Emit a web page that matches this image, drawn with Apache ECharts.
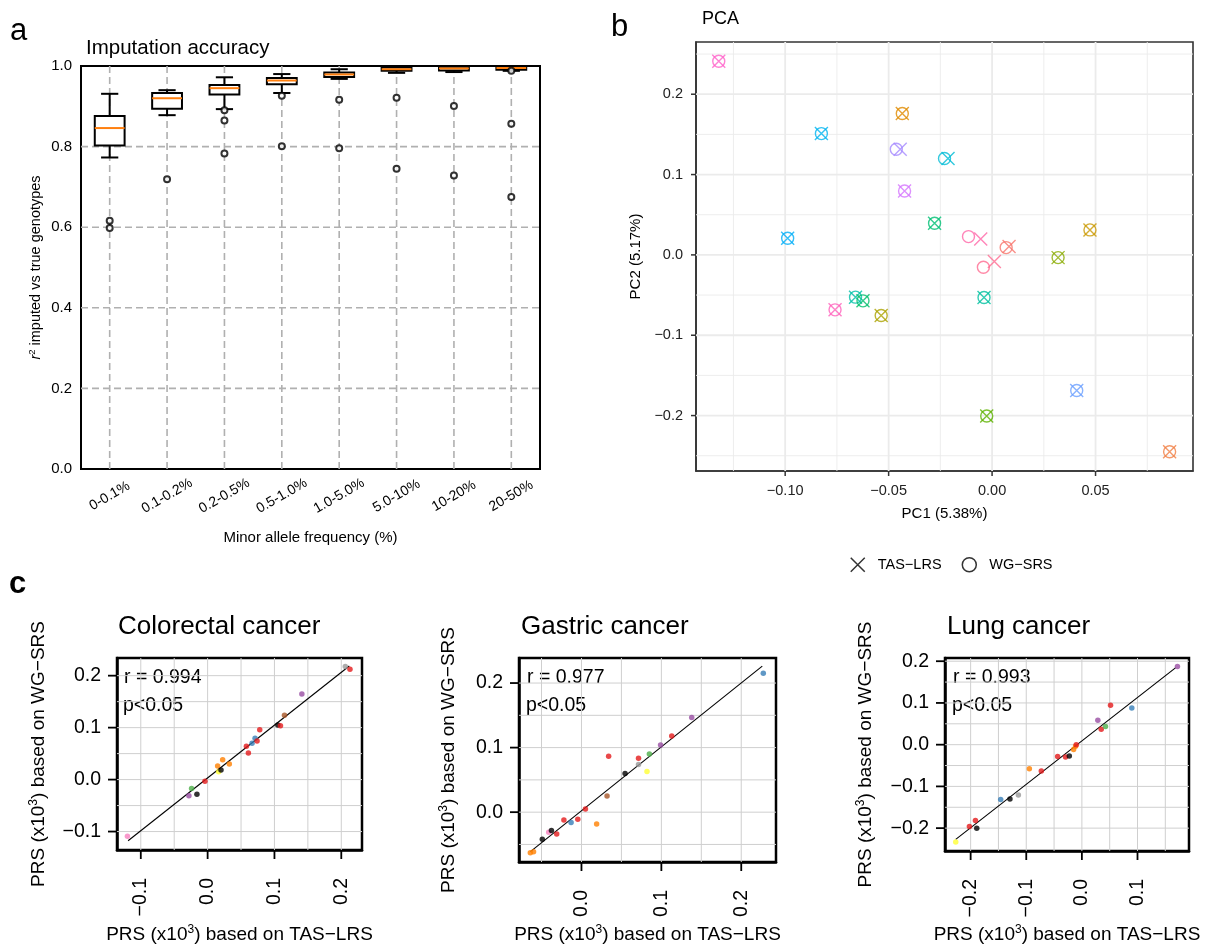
<!DOCTYPE html>
<html>
<head>
<meta charset="utf-8">
<script src="https://cdn.jsdelivr.net/npm/echarts@6/dist/echarts.min.js"></script>
<style>
  html, body { margin: 0; background: #fff; }
  #main { width: 1206px; height: 946px; }
</style>
</head>
<body>
<div id="main"></div>
<script>
const FONT = "'Liberation Sans', Arial, Helvetica, sans-serif";
const MINUS = "\u2212";

// ---- panel a: imputation accuracy ----
const mafBins = ["0-0.1%", "0.1-0.2%", "0.2-0.5%", "0.5-1.0%", "1.0-5.0%", "5.0-10%", "10-20%", "20-50%"];
const boxMin = [0.773, 0.878, 0.893, 0.933, 0.968, 0.983, 0.985, 0.988];
const boxQ1 = [0.803, 0.894, 0.929, 0.955, 0.973, 0.988, 0.989, 0.991];
const boxMed = [0.846, 0.92, 0.945, 0.964, 0.979, 0.992, 0.994, 0.995];
const boxQ3 = [0.876, 0.933, 0.953, 0.97, 0.984, 0.996, 0.998, 0.999];
const boxMax = [0.931, 0.94, 0.972, 0.98, 0.992, 0.998, 1.0, 1.0];
const outlierBin = [0, 0, 1, 2, 2, 2, 3, 3, 4, 4, 5, 5, 6, 6, 7, 7, 7];
const outlierR2 = [0.616, 0.598, 0.719, 0.89, 0.865, 0.783, 0.926, 0.801, 0.916, 0.796, 0.921, 0.745, 0.901, 0.728, 0.988, 0.857, 0.675];
const accGridY = [0.2, 0.4, 0.6, 0.8];

// ---- panel b: PCA ----
const pcaTasX = [-0.1321, -0.0825, -0.0988, -0.0759, -0.066, -0.0624, -0.0536, -0.0434, -0.0444, -0.0423, -0.0213, -0.0278, -0.0055, 0.0011, 0.0082, 0.0319, 0.0473, -0.0039, 0.0409, -0.0026, 0.0858];
const pcaTasY = [0.241, 0.151, 0.0208, -0.0684, -0.0526, -0.0572, -0.0755, 0.176, 0.1315, 0.0796, 0.12, 0.0394, 0.0199, -0.0083, 0.0105, -0.0034, 0.0311, -0.0531, -0.1688, -0.2006, -0.245];
const pcaWgX = [-0.1321, -0.0825, -0.0988, -0.0759, -0.066, -0.0624, -0.0536, -0.0434, -0.0463, -0.0423, -0.023, -0.0278, -0.0114, -0.0042, 0.0068, 0.0319, 0.0473, -0.0039, 0.0409, -0.0026, 0.0858];
const pcaWgY = [0.241, 0.151, 0.0208, -0.0684, -0.0526, -0.0572, -0.0755, 0.176, 0.1315, 0.0796, 0.12, 0.0394, 0.0228, -0.0153, 0.0091, -0.0034, 0.0311, -0.0531, -0.1688, -0.2006, -0.245];
const sampleColors = ["#FF61C9", "#00B4F0", "#00AEF8", "#FF62BC", "#00C1A7", "#00BE6C", "#ABA300", "#E08B00", "#A58AFF", "#D575FE", "#00BCD6", "#00BF74", "#FF66A8", "#FF6C91", "#F8766D", "#8AAB00", "#C99800", "#00C1A0", "#6A9FFF", "#5EB300", "#F17F45"];
const pcaMajorX = [-0.1, -0.05, 0, 0.05];
const pcaMinorX = [-0.125, -0.075, -0.025, 0.025, 0.075];
const pcaMajorY = [-0.2, -0.1, 0, 0.1, 0.2];
const pcaMinorY = [-0.25, -0.15, -0.05, 0.05, 0.15, 0.25];

// ---- panel c: PRS TAS-LRS vs WG-SRS ----
const crcTas = [-0.12, -0.028, -0.024, -0.016, -0.004, 0.015, 0.0165, 0.02, 0.0225, 0.0325, 0.058, 0.061, 0.0665, 0.071, 0.074, 0.078, 0.105, 0.109, 0.115, 0.141, 0.206, 0.213];
const crcWg = [-0.109, -0.031, -0.017, -0.028, -0.003, 0.026, 0.015, 0.0185, 0.038, 0.03, 0.064, 0.051, 0.07, 0.0795, 0.0745, 0.096, 0.105, 0.1035, 0.124, 0.1645, 0.2175, 0.2125];
const crcCol = ["pink", "purple", "green", "black", "red", "orange", "yellow", "black", "orange", "orange", "red", "red", "blue", "blue", "red", "red", "black", "red", "brown", "purple", "gray", "red"];
const crcFit = [[-0.119, -0.1177], [0.212, 0.2187]];

const gcTas = [-0.064, -0.06, -0.049, -0.041, -0.0376, -0.031, -0.022, -0.013, -0.0046, 0.005, 0.019, 0.032, 0.034, 0.0546, 0.0714, 0.0714, 0.082, 0.085, 0.099, 0.113, 0.138, 0.2276];
const gcWg = [-0.0627, -0.0612, -0.0418, -0.0313, -0.0284, -0.034, -0.012, -0.016, -0.011, 0.005, -0.0185, 0.025, 0.0866, 0.0597, 0.074, 0.0836, 0.063, 0.09, 0.104, 0.118, 0.1467, 0.215];
const gcCol = ["orange", "orange", "black", "pink", "black", "red", "red", "blue", "red", "red", "orange", "brown", "red", "black", "gray", "red", "yellow", "green", "purple", "red", "purple", "blue"];
const gcFit = [[-0.0639, -0.0612], [0.2263, 0.2263]];

const lcTas = [-0.2268, -0.2022, -0.1914, -0.189, -0.146, -0.1293, -0.1142, -0.0944, -0.0729, -0.0436, -0.0293, -0.0226, -0.0149, -0.0113, -0.0101, 0.0287, 0.0348, 0.0425, 0.0515, 0.0898, 0.1718];
const lcWg = [-0.2331, -0.1962, -0.1816, -0.2001, -0.1316, -0.1301, -0.1209, -0.0577, -0.0632, -0.0286, -0.0293, -0.027, -0.0115, -0.0039, 0.0, 0.0584, 0.0369, 0.0438, 0.0946, 0.0877, 0.1876];
const lcCol = ["yellow", "red", "red", "black", "blue", "black", "gray", "orange", "red", "red", "red", "black", "orange", "orange", "red", "purple", "red", "green", "red", "blue", "purple"];
const lcFit = [[-0.2268, -0.2271], [0.1688, 0.1846]];

const cancerNames = ["Colorectal cancer", "Gastric cancer", "Lung cancer"];
const corrR = ["0.994", "0.977", "0.993"];

const crcTicks = [-0.1, 0, 0.1, 0.2];
const gcTicks = [0, 0.1, 0.2];
const lcTicksX = [-0.2, -0.1, 0, 0.1];
const lcTicksY = [-0.2, -0.1, 0, 0.1, 0.2];
const crcGrid = [-0.1, -0.05, 0, 0.05, 0.1, 0.15, 0.2];
const gcGrid = [-0.05, 0, 0.05, 0.1, 0.15, 0.2];
const lcGridX = [-0.2, -0.15, -0.1, -0.05, 0, 0.05, 0.1, 0.15];
const lcGridY = [-0.2, -0.15, -0.1, -0.05, 0, 0.05, 0.1, 0.15, 0.2];

const set1 = {
  red: "#E41A1C", blue: "#377EB8", green: "#4DAF4A", purple: "#984EA3", orange: "#FF7F00",
  yellow: "#FFFF33", brown: "#A65628", pink: "#F781BF", gray: "#999999", black: "#000000",
};

const signed = (d) => (v) => (v < 0 ? MINUS : "") + Math.abs(v).toFixed(d);

// gridlines drawn through the axes of one grid
function gridSeries(idx, vals, dir, style) {
  return {
    type: "custom",
    xAxisIndex: idx,
    yAxisIndex: idx,
    silent: true,
    z: 1,
    data: vals.map((v) => (dir === "v" ? [v, 0] : [0, v])),
    renderItem: (params, api) => {
      const cs = params.coordSys;
      const p = api.coord([api.value(0), api.value(1)]);
      const shape = dir === "v"
        ? { x1: p[0], y1: cs.y, x2: p[0], y2: cs.y + cs.height }
        : { x1: cs.x, y1: p[1], x2: cs.x + cs.width, y2: p[1] };
      return { type: "line", shape, style };
    },
  };
}

// outward ticks on the bottom ("x") or left ("y") edge of one grid
function tickSeries(idx, vals, dir, len, style) {
  return {
    type: "custom",
    xAxisIndex: idx,
    yAxisIndex: idx,
    silent: true,
    clip: false,
    z: 6,
    data: vals.map((v) => (dir === "x" ? [v, 0] : [0, v])),
    renderItem: (params, api) => {
      const cs = params.coordSys;
      const p = api.coord([api.value(0), api.value(1)]);
      const b = cs.y + cs.height;
      const shape = dir === "x"
        ? { x1: p[0], y1: b, x2: p[0], y2: b + len }
        : { x1: cs.x - len, y1: p[1], x2: cs.x, y2: p[1] };
      return { type: "line", shape, style };
    },
  };
}

function renderBox(params, api) {
  const i = api.value(0);
  const band = api.size([1, 0])[0];
  const x = api.coord([i, 0])[0];
  const y = (k) => api.coord([i, api.value(k)])[1];
  const yMin = y(1), yQ1 = y(2), yMed = y(3), yQ3 = y(4), yMax = y(5);
  const bw = (band * 0.52) / 2, cw = (band * 0.3) / 2;
  const st = { stroke: "#000", lineWidth: 2, fill: null };
  return {
    type: "group",
    children: [
      { type: "line", shape: { x1: x, y1: yMax, x2: x, y2: yQ3 }, style: st },
      { type: "line", shape: { x1: x, y1: yQ1, x2: x, y2: yMin }, style: st },
      { type: "line", shape: { x1: x - cw, y1: yMax, x2: x + cw, y2: yMax }, style: st },
      { type: "line", shape: { x1: x - cw, y1: yMin, x2: x + cw, y2: yMin }, style: st },
      { type: "rect", shape: { x: x - bw, y: yQ3, width: 2 * bw, height: yQ1 - yQ3 }, style: { stroke: "#000", lineWidth: 2, fill: "#fff" } },
      { type: "line", shape: { x1: x - bw, y1: yMed, x2: x + bw, y2: yMed }, style: { stroke: "#ff7f0e", lineWidth: 2 } },
    ],
  };
}

const prsRich = { s: { fontSize: 12, verticalAlign: "top", lineHeight: 21, fontFamily: FONT } };

function prsAxes(idx, min, max, ticks, isX, gap) {
  return {
    type: "value",
    gridIndex: idx,
    min, max,
    name: isX ? "PRS (x10{s|3}) based on TAS\u2212LRS" : "PRS (x10{s|3}) based on WG\u2212SRS",
    nameLocation: "middle",
    nameGap: gap,
    nameRotate: isX ? 0 : 90,
    nameTextStyle: { fontSize: 19, color: "#000", fontFamily: FONT, lineHeight: 21, rich: prsRich },
    axisLine: { show: true, onZero: false, lineStyle: { color: "#000", width: 2.5 } },
    splitLine: { show: false },
    axisTick: { show: false },
    axisLabel: {
      customValues: ticks, formatter: signed(1), fontSize: 19.5, color: "#000", fontFamily: FONT,
      margin: isX ? 28 : 16, rotate: isX ? 90 : 0,
    },
  };
}

const prsPanels = [
  { tas: crcTas, wg: crcWg, col: crcCol, fit: crcFit, gx: crcGrid, gy: crcGrid, tx: crcTicks, ty: crcTicks },
  { tas: gcTas, wg: gcWg, col: gcCol, fit: gcFit, gx: gcGrid, gy: gcGrid, tx: gcTicks, ty: gcTicks },
  { tas: lcTas, wg: lcWg, col: lcCol, fit: lcFit, gx: lcGridX, gy: lcGridY, tx: lcTicksX, ty: lcTicksY },
];

const dashed = { stroke: "#b0b0b0", lineWidth: 1.6, lineDash: [7, 4] };
const pcaTick = { stroke: "#333", lineWidth: 1.5 };
const prsTick = { stroke: "#000", lineWidth: 1.8 };

const series = [
  // panel a
  gridSeries(0, mafBins.map((_, i) => i), "v", dashed),
  gridSeries(0, accGridY, "h", dashed),
  {
    type: "custom", xAxisIndex: 0, yAxisIndex: 0, z: 3, renderItem: renderBox,
    encode: { x: 0, y: [1, 2, 3, 4, 5] },
    data: mafBins.map((_, i) => [i, boxMin[i], boxQ1[i], boxMed[i], boxQ3[i], boxMax[i]]),
  },
  {
    type: "scatter", xAxisIndex: 0, yAxisIndex: 0, z: 4, symbol: "circle", symbolSize: 6,
    itemStyle: { color: "#fff", borderColor: "#000", borderWidth: 2 },
    data: outlierBin.map((b, k) => [b, outlierR2[k]]),
  },
  // panel b
  gridSeries(1, pcaMinorX, "v", { stroke: "#EBEBEB", lineWidth: 0.9 }),
  gridSeries(1, pcaMinorY, "h", { stroke: "#EBEBEB", lineWidth: 0.9 }),
  gridSeries(1, pcaMajorX, "v", { stroke: "#EBEBEB", lineWidth: 1.8 }),
  gridSeries(1, pcaMajorY, "h", { stroke: "#EBEBEB", lineWidth: 1.8 }),
  tickSeries(1, pcaMajorX, "x", 5, pcaTick),
  tickSeries(1, pcaMajorY, "y", 5, pcaTick),
  {
    name: "TAS\u2212LRS", type: "scatter", xAxisIndex: 1, yAxisIndex: 1, z: 5,
    symbol: "path://M0,0L10,10M0,10L10,0", symbolSize: 13,
    itemStyle: { color: "transparent", borderColor: "#000", borderWidth: 1.4 },
    data: pcaTasX.map((x, i) => ({ value: [x, pcaTasY[i]], itemStyle: { borderColor: sampleColors[i] } })),
  },
  {
    name: "WG\u2212SRS", type: "scatter", xAxisIndex: 1, yAxisIndex: 1, z: 5,
    symbol: "circle", symbolSize: 12,
    itemStyle: { color: "transparent", borderColor: "#000", borderWidth: 1.4 },
    data: pcaWgX.map((x, i) => ({ value: [x, pcaWgY[i]], itemStyle: { borderColor: sampleColors[i] } })),
  },
];

prsPanels.forEach((p, k) => {
  const idx = k + 2;
  series.push(gridSeries(idx, p.gx, "v", { stroke: "#cfcfcf", lineWidth: 1 }));
  series.push(gridSeries(idx, p.gy, "h", { stroke: "#cfcfcf", lineWidth: 1 }));
  series.push(tickSeries(idx, p.tx, "x", 9, prsTick));
  series.push(tickSeries(idx, p.ty, "y", 9, prsTick));
  series.push({
    type: "line", xAxisIndex: idx, yAxisIndex: idx, z: 4, symbol: "none", silent: true,
    lineStyle: { color: "#000", width: 1.1 }, data: p.fit,
  });
  series.push({
    type: "scatter", xAxisIndex: idx, yAxisIndex: idx, z: 5, symbol: "circle", symbolSize: 5.5,
    data: p.tas.map((x, i) => ({ value: [x, p.wg[i]], itemStyle: { color: set1[p.col[i]] } })),
  });
});

const titleStyle = (size) => ({ fontSize: size, fontWeight: "normal", fontFamily: FONT, color: "#000" });

const option = {
  animation: false,
  backgroundColor: "#fff",
  textStyle: { fontFamily: FONT, color: "#000" },
  title: [
    { text: "Imputation accuracy", left: 81, top: 33, textStyle: titleStyle(20.5) },
    { text: "PCA", left: 697, top: 5, textStyle: titleStyle(18) },
    { text: cancerNames[0], left: 113, top: 609, textStyle: titleStyle(26) },
    { text: cancerNames[1], left: 516, top: 609, textStyle: titleStyle(26) },
    { text: cancerNames[2], left: 942, top: 609, textStyle: titleStyle(26) },
  ],
  legend: {
    left: 845, top: 552, orient: "horizontal", itemWidth: 14, itemHeight: 14, itemGap: 20,
    textStyle: { fontSize: 14.5, color: "#000", fontFamily: FONT, padding: [0, 0, 0, 8] },
    selectedMode: false,
    data: [
      { name: "TAS\u2212LRS", icon: "path://M0,0L10,10M0,10L10,0", itemStyle: { color: "transparent", borderColor: "#000", borderWidth: 1.5 } },
      { name: "WG\u2212SRS", icon: "circle", itemStyle: { color: "transparent", borderColor: "#000", borderWidth: 1.5 } },
    ],
  },
  grid: [
    { left: 81, top: 66, width: 459, height: 403, show: true, borderColor: "#000", borderWidth: 2, backgroundColor: "transparent" },
    { left: 696, top: 42, width: 497, height: 429, show: true, borderColor: "#333", borderWidth: 1.6, backgroundColor: "transparent" },
    { left: 117, top: 658, width: 245, height: 200, show: true, borderColor: "#000", borderWidth: 2.5, backgroundColor: "transparent" },
    { left: 519, top: 658, width: 257, height: 212, show: true, borderColor: "#000", borderWidth: 2.5, backgroundColor: "transparent" },
    { left: 945, top: 658, width: 244, height: 201, show: true, borderColor: "#000", borderWidth: 2.5, backgroundColor: "transparent" },
  ],
  xAxis: [
    {
      type: "category", gridIndex: 0, data: mafBins, boundaryGap: true,
      name: "Minor allele frequency (%)", nameLocation: "middle", nameGap: 61,
      nameTextStyle: { fontSize: 15, color: "#000", fontFamily: FONT },
      axisLine: { lineStyle: { color: "#000", width: 2 } },
      axisTick: { inside: true, alignWithLabel: true, length: 8, lineStyle: { color: "#000", width: 2 } },
      axisLabel: { interval: 0, rotate: 30, align: "center", verticalAlign: "middle", margin: 27, fontSize: 14, color: "#000", fontFamily: FONT },
      splitLine: { show: false },
    },
    {
      type: "value", gridIndex: 1, min: -0.1431, max: 0.0971,
      name: "PC1 (5.38%)", nameLocation: "middle", nameGap: 35,
      nameTextStyle: { fontSize: 15, color: "#000", fontFamily: FONT },
      axisLine: { onZero: false, lineStyle: { color: "#333", width: 1.6 } },
      axisTick: { show: false },
      axisLabel: { customValues: pcaMajorX, formatter: signed(2), margin: 12, fontSize: 14.5, color: "#222", fontFamily: FONT },
      splitLine: { show: false },
    },
    prsAxes(2, -0.1356, 0.231, crcTicks, true, 74),
    prsAxes(3, -0.0782, 0.2435, gcTicks, true, 62),
    prsAxes(4, -0.2461, 0.1926, lcTicksX, true, 73),
  ],
  yAxis: [
    {
      type: "value", gridIndex: 0, min: 0, max: 1, interval: 0.2,
      name: "{i|r}{s|2} imputed vs true genotypes", nameLocation: "middle", nameGap: 37, nameRotate: 90,
      nameTextStyle: {
        fontSize: 14.5, color: "#000", fontFamily: FONT, lineHeight: 17,
        rich: { i: { fontStyle: "italic", fontSize: 14.5, fontFamily: FONT, lineHeight: 17 }, s: { fontSize: 9.5, verticalAlign: "top", lineHeight: 17, fontFamily: FONT } },
      },
      axisLine: { show: true, lineStyle: { color: "#000", width: 2 } },
      axisTick: { inside: true, length: 8, lineStyle: { color: "#000", width: 2 } },
      axisLabel: { formatter: signed(1), margin: 9, fontSize: 15, color: "#000", fontFamily: FONT },
      splitLine: { show: false },
    },
    {
      type: "value", gridIndex: 1, min: -0.269, max: 0.265,
      name: "PC2 (5.17%)", nameLocation: "middle", nameGap: 53, nameRotate: 90,
      nameTextStyle: { fontSize: 15, color: "#000", fontFamily: FONT },
      axisLine: { onZero: false, lineStyle: { color: "#333", width: 1.6 } },
      axisTick: { show: false },
      axisLabel: { customValues: pcaMajorY, formatter: signed(1), margin: 13, fontSize: 14.5, color: "#222", fontFamily: FONT },
      splitLine: { show: false },
    },
    prsAxes(2, -0.1355, 0.234, crcTicks, false, 68),
    prsAxes(3, -0.0772, 0.2388, gcTicks, false, 60),
    prsAxes(4, -0.2548, 0.2077, lcTicksY, false, 69),
  ],
  graphic: [
    { type: "text", left: 10, top: 16, style: { text: "a", fontSize: 31, fontFamily: FONT, fill: "#000" } },
    { type: "text", left: 611, top: 12, style: { text: "b", fontSize: 31, fontFamily: FONT, fill: "#000" } },
    { type: "text", left: 9, top: 569, style: { text: "c", fontSize: 31, fontWeight: "bold", fontFamily: FONT, fill: "#000" } },
  ].concat(
    [124, 527, 953].flatMap((x, k) => [
      { type: "text", left: x, top: 668, style: { text: "r = " + corrR[k], fontSize: 19.5, fontFamily: FONT, fill: "#000" } },
      { type: "text", left: x - 1, top: 696, style: { text: "p<0.05", fontSize: 19.5, fontFamily: FONT, fill: "#000" } },
    ])
  ),
  series,
};

const chart = echarts.init(document.getElementById("main"));
chart.setOption(option);
</script>
</body>
</html>
